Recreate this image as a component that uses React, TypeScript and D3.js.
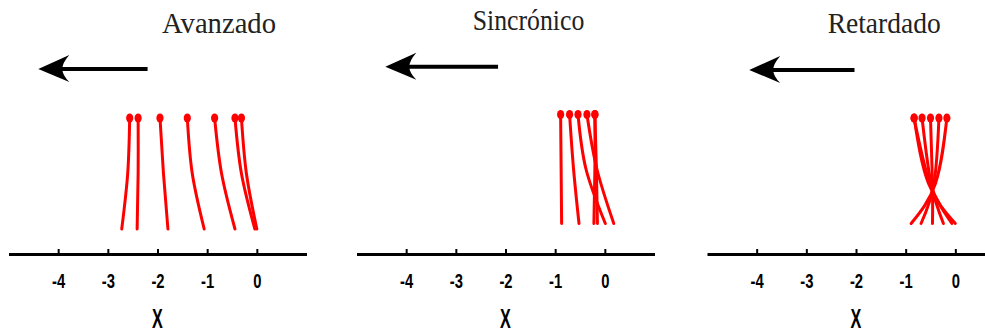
import React, { useRef, useEffect } from 'react';
import * as d3 from 'd3';

// panel titles and axis labels
const titles = ['Avanzado', 'Sincrónico', 'Retardado'];
const tickValues = [-4, -3, -2, -1, 0];
const axisLabel = 'X';

// cilia positions (x) at the tip (y = 1), the middle and the base (y = 0)
const avanzadoTip = [-2.56, -2.39, -1.95, -1.4, -0.85, -0.44, -0.31];
const avanzadoMid = [-2.6, -2.39, -1.88, -1.3, -0.71, -0.31, -0.21];
const avanzadoBase = [-2.72, -2.41, -1.79, -1.06, -0.44, -0.04, 0.0];

const sincronicoTip = [-0.89, -0.71, -0.54, -0.36, -0.2, -0.2];
const sincronicoMid = [-0.88, -0.63, -0.38, -0.16, -0.2, -0.17];
const sincronicoBase = [-0.87, -0.52, 0.01, 0.18, -0.22, -0.15];

const retardadoTip = [-0.83, -0.83, -0.67, -0.5, -0.33, -0.17];
const retardadoMid = [-0.54, -0.51, -0.49, -0.46, -0.43, -0.4];
const retardadoBase = [0.0, -0.07, -0.24, -0.46, -0.69, -0.89];

// height (0..1) of the middle point in each panel
const midLevel = [0.5, 0.5, 0.38];

// wave direction arrows (x from, x to)
const arrowFrom = [-2.2, -2.15, -2.03];
const arrowTo = [-4.4, -4.42, -4.15];

const App = () => {
  const chartRef = useRef<SVGSVGElement>(null);

  useEffect(() => {
    const width = 985;
    const height = 334;

    const svg = d3.select(chartRef.current)
      .attr('width', width)
      .attr('height', height);
    svg.selectAll('*').remove();

    const tips = [avanzadoTip, sincronicoTip, retardadoTip];
    const mids = [avanzadoMid, sincronicoMid, retardadoMid];
    const bases = [avanzadoBase, sincronicoBase, retardadoBase];

    // layout of the three panels
    const panelLeft = [8.5, 356.5, 707];
    const panelWidth = 298;
    const axisY = 254;
    const strandTop = [118, 114.5, 118];
    const strandBottom = [229, 223.5, 223.5];
    const arrowY = [69, 66.7, 70];
    const titleX = [219, 528.5, 884.2];
    const titleY = [33, 29.5, 33];
    const titleW = [114, 111.6, 113];

    titles.forEach((title, p) => {
      const x = d3.scaleLinear().domain([-5, 1])
        .range([panelLeft[p], panelLeft[p] + panelWidth]);
      const y = d3.scaleLinear().domain([0, 1])
        .range([strandBottom[p], strandTop[p]]);

      const g = svg.append('g');

      // title
      g.append('text')
        .attr('x', titleX[p])
        .attr('y', titleY[p])
        .attr('text-anchor', 'middle')
        .attr('font-family', '"Liberation Serif", "Times New Roman", serif')
        .attr('font-size', 30)
        .attr('textLength', titleW[p])
        .attr('lengthAdjust', 'spacingAndGlyphs')
        .attr('fill', '#222')
        .text(title);

      // arrow
      const x0 = x(arrowFrom[p]);
      const x1 = x(arrowTo[p]);
      const ay = arrowY[p];
      g.append('line')
        .attr('x1', x0).attr('x2', x1 + 22)
        .attr('y1', ay).attr('y2', ay)
        .attr('stroke', '#000')
        .attr('stroke-width', 4);
      g.append('path')
        .attr('d', `M${x1},${ay} L${x1 + 31},${ay - 14} Q${x1 + 24},${ay - 6} ${x1 + 24},${ay}` +
          ` Q${x1 + 24},${ay + 6} ${x1 + 31},${ay + 13} Z`)
        .attr('fill', '#000');

      // cilia
      const line = d3.line<[number, number]>()
        .x(d => x(d[0]))
        .y(d => y(d[1]))
        .curve(d3.curveNatural);

      tips[p].forEach((tip, i) => {
        const pts: [number, number][] = [
          [tip, 1],
          [mids[p][i], midLevel[p]],
          [bases[p][i], 0]
        ];
        g.append('path')
          .attr('d', line(pts))
          .attr('fill', 'none')
          .attr('stroke', '#ff0000')
          .attr('stroke-width', 3)
          .attr('stroke-linecap', 'round');
        g.append('ellipse')
          .attr('cx', x(tip))
          .attr('cy', y(1))
          .attr('rx', 3.6)
          .attr('ry', 4.6)
          .attr('fill', '#ff0000');
      });

      // x axis
      const axis = g.append('g')
        .attr('transform', `translate(0,${axisY})`)
        .call(d3.axisBottom(x)
          .tickValues(tickValues)
          .tickSizeInner(-5)
          .tickSizeOuter(0)
          .tickPadding(20)
          .tickFormat(d => String(d)));
      axis.select('.domain').attr('stroke-width', 3);
      axis.selectAll('.tick line').attr('stroke-width', 2);
      axis.selectAll('.tick text')
        .attr('font-family', '"Liberation Sans", Arial, sans-serif')
        .attr('font-size', 20)
        .attr('font-weight', 'bold')
        .attr('transform', 'scale(0.74,1)')
        .attr('fill', '#000');

      // axis label
      g.append('text')
        .attr('transform', `translate(${x(-2)},328) scale(0.6,1)`)
        .attr('text-anchor', 'middle')
        .attr('font-family', '"Liberation Sans", Arial, sans-serif')
        .attr('font-size', 27)
        .attr('font-weight', 'bold')
        .attr('fill', '#000')
        .text(axisLabel);
    });
  }, []);

  return (
    <svg ref={chartRef} style={{ position: 'absolute', left: 0, top: 0, background: '#fff' }}></svg>
  );
};

export default App;
